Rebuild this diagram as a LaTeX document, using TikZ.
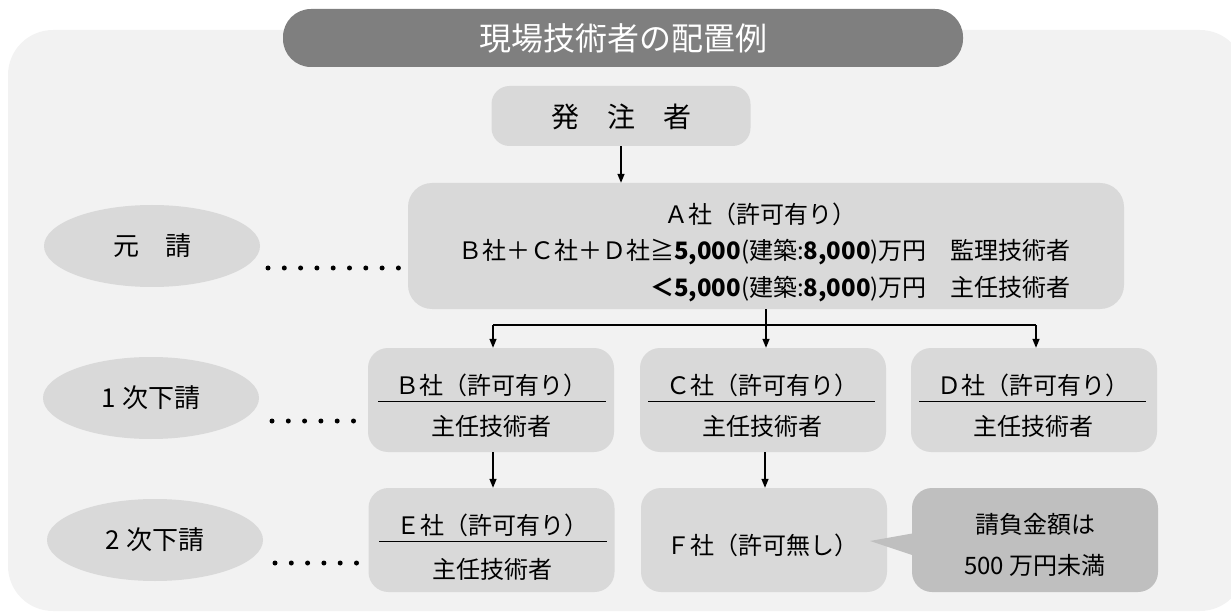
\documentclass[tikz,border=0pt]{standalone}
\usepackage{fontspec}
\setmainfont{Noto Sans CJK JP}
\usetikzlibrary{arrows.meta,shapes.geometric}
\definecolor{bgc}{HTML}{F2F2F2}
\definecolor{boxc}{HTML}{D9D9D9}
\definecolor{titlec}{HTML}{7F7F7F}
\definecolor{notec}{HTML}{BFBFBF}
\tikzset{
  orgbox/.style={fill=boxc, draw=none, rounded corners=20pt, minimum width=246pt, minimum height=104pt, inner sep=0pt},
  lvl/.style={ellipse, fill=boxc, draw=none, minimum width=216pt, minimum height=82pt, inner sep=0pt, font=\fontsize{26}{30}\selectfont},
  txt/.style={inner sep=0pt, font=\fontsize{24}{28}\selectfont},
  conn/.style={line width=1.4pt, -{Triangle[length=9pt,width=7pt]}},
  plain/.style={line width=1.6pt},
  sepline/.style={line width=1pt},
  dotrow/.style={line width=5pt, line cap=round, dash pattern=on 0pt off 16.3pt}
}
\begin{document}
\begin{tikzpicture}[x=1pt,y=-1pt]
\useasboundingbox (0,0) rectangle (1231,612);
% background panel
\fill[bgc, rounded corners=45pt] (8,30) rectangle (1245,611);
% title
\node[fill=titlec, rounded corners=28pt, minimum width=680pt, minimum height=58pt, inner sep=0pt,
      text=white, font=\fontsize{32}{36}\selectfont] (title) at (623,38) {現場技術者の配置例};
% owner
\node[orgbox, minimum width=259pt, minimum height=60pt, rounded corners=18pt] (owner) at (621,116) {};
\node[txt, font=\fontsize{28}{32}\selectfont] (ownert) at (621,117) {発　注　者};
% A company
\node[orgbox, minimum width=716pt, minimum height=126pt, rounded corners=24pt] (A) at (766,246) {};
\node[txt] (A1) at (760,214) {Ａ社（許可有り）};
\node[txt, anchor=east] (A2) at (1071,252) {Ｂ社＋Ｃ社＋Ｄ社≧\textbf{5,000}(建築:\textbf{8,000})万円　監理技術者};
\node[txt, anchor=east] (A3) at (1071,289) {\textbf{＜5,000}(建築:\textbf{8,000})万円　主任技術者};
% first tier
\node[orgbox] (B) at (491,400) {};
\node[orgbox] (C) at (763,400) {};
\node[orgbox] (D) at (1034,400) {};
% second tier
\node[orgbox] (E) at (491.5,540) {};
\node[orgbox] (F) at (764,540) {};
\node[orgbox, fill=notec] (N) at (1035,540) {};
\coordinate (tip) at (870,541);
\fill[notec] (tip) -- (915,533) -- (915,556) -- cycle;
% separators
\draw[sepline] (378,401) -- (606,401);
\draw[sepline] (648,401) -- (875,401);
\draw[sepline] (919,401) -- (1146,401);
\draw[sepline] (379,541) -- (607,541);
% texts in boxes
\node[txt] (Bt) at (491,385) {Ｂ社（許可有り）};
\node[txt] (Bs) at (491,426) {主任技術者};
\node[txt] (Ct) at (762,385) {Ｃ社（許可有り）};
\node[txt] (Cs) at (762,426) {主任技術者};
\node[txt] (Dt) at (1033,385) {Ｄ社（許可有り）};
\node[txt] (Ds) at (1033,426) {主任技術者};
\node[txt] (Et) at (492,525) {Ｅ社（許可有り）};
\node[txt] (Es) at (492,569) {主任技術者};
\node[txt] (Ft) at (762,545) {Ｆ社（許可無し）};
\node[txt] (N1) at (1035,524) {請負金額は};
\node[txt] (N2) at (1035,565) {500 万円未満};
% level ovals
\node[lvl] (L0) at (152,246) {元　請};
\node[lvl] (L1) at (151,398) {1 次下請};
\node[lvl] (L2) at (155,540) {2 次下請};
% dotted leaders
\coordinate (d0a) at (268,268); \coordinate (d0b) at (399,268);
\coordinate (d1a) at (272,421); \coordinate (d1b) at (355,421);
\coordinate (d2a) at (275,563); \coordinate (d2b) at (358,563);
\draw[dotrow] (d0a) -- (d0b);
\draw[dotrow] (d1a) -- (d1b);
\draw[dotrow] (d2a) -- (d2b);
% connectors
\draw[conn] (owner.south) -- (A.north -| owner.south);
\coordinate (br) at (766,325);
\coordinate (brB) at (493,325);
\coordinate (brD) at (1036,325);
\draw[plain] (A.south -| br) -- (br);
\draw[plain] (brB) -- (brD);
\draw[conn] (brB) -- (B.north -| brB);
\draw[conn] (br) -- (C.north -| br);
\draw[conn] (brD) -- (D.north -| brD);
\draw[conn] (B.south -| brB) -- (E.north -| brB);
\draw[conn] (C.south -| 765,0) -- (F.north -| 765,0);
\end{tikzpicture}
\end{document}
